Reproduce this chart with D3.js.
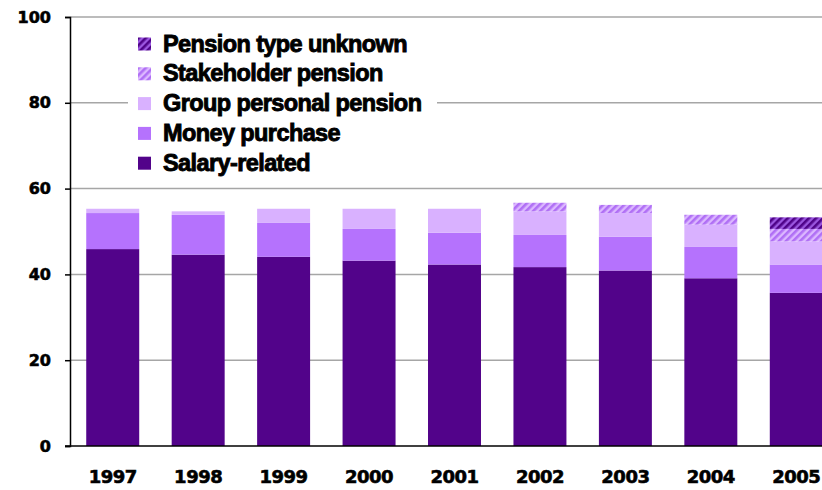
<!DOCTYPE html>
<html>
<head>
<meta charset="utf-8">
<script src="https://cdn.jsdelivr.net/npm/d3@7"></script>
<style>
  body { margin: 0; background: #fff; }
  svg { display: block; }
</style>
</head>
<body>
<div id="chart"></div>
<script>
const years = ['1997', '1998', '1999', '2000', '2001', '2002', '2003', '2004', '2005'];
const salaryRelated = [45.9, 44.6, 44.1, 43.2, 42.3, 41.7, 40.9, 39.1, 35.7];
const moneyPurchase = [8.4, 9.3, 7.9, 7.4, 7.4, 7.5, 7.9, 7.3, 6.6];
const groupPersonal = [1.0, 0.8, 3.3, 4.7, 5.6, 5.5, 5.5, 5.2, 5.4];
const stakeholder = [0, 0, 0, 0, 0, 2.0, 1.9, 2.3, 2.9];
const typeUnknown = [0, 0, 0, 0, 0, 0, 0, 0, 2.7];
const yTicks = [0, 20, 40, 60, 80, 100];

const seriesNames = ['Salary-related', 'Money purchase', 'Group personal pension', 'Stakeholder pension', 'Pension type unknown'];
const seriesValues = [salaryRelated, moneyPurchase, groupPersonal, stakeholder, typeUnknown];

const W = 822, H = 490;

const rows = years.map((y, i) => {
    const r = {year: y};
    seriesNames.forEach((n, k) => r[n] = seriesValues[k][i]);
    return r;
});

const svg = d3.select('#chart')
    .append('svg')
    .attr('width', W)
    .attr('height', H);

// hatch patterns
const defs = svg.append('defs');
function hatch(id, bg, fg) {
    const p = defs.append('pattern')
        .attr('id', id)
        .attr('patternUnits', 'userSpaceOnUse')
        .attr('width', 5)
        .attr('height', 5)
        .attr('patternTransform', 'rotate(45)');
    p.append('rect').attr('width', 5).attr('height', 5).attr('fill', bg);
    p.append('rect').attr('width', 2.6).attr('height', 5).attr('fill', fg);
}
hatch('hatchStake', '#dcb8ff', '#b06ff5');
hatch('hatchUnknown', '#9b57e0', '#4f0389');

const fills = {
    'Salary-related': '#52038a',
    'Money purchase': '#b572fd',
    'Group personal pension': '#d9b1ff',
    'Stakeholder pension': 'url(#hatchStake)',
    'Pension type unknown': 'url(#hatchUnknown)'
};

const x = d3.scaleBand()
    .domain(years)
    .range([70, 839])
    .paddingInner(0.38)
    .paddingOuter(0.19);

const y = d3.scaleLinear()
    .domain([0, 100])
    .range([446, 17]);

// gridlines
svg.append('g')
    .selectAll('line')
    .data(yTicks.filter(d => d > 0))
    .enter()
    .append('line')
    .attr('x1', 70)
    .attr('x2', W)
    .attr('y1', d => y(d))
    .attr('y2', d => y(d))
    .attr('stroke', '#a6a6a6')
    .attr('stroke-width', 1.5);

// bars
const stack = d3.stack().keys(seriesNames);
const layers = stack(rows);

svg.append('g')
    .selectAll('g')
    .data(layers)
    .enter()
    .append('g')
    .attr('fill', d => fills[d.key])
    .selectAll('rect')
    .data(d => d.filter(s => s[1] - s[0] > 0))
    .enter()
    .append('rect')
    .attr('x', d => x(d.data.year))
    .attr('width', x.bandwidth())
    .attr('y', d => y(d[1]))
    .attr('height', d => y(d[0]) - y(d[1]));

// y axis
const yAxis = d3.axisLeft(y)
    .tickValues(yTicks)
    .tickSize(5)
    .tickPadding(14);

const ya = svg.append('g')
    .attr('transform', 'translate(70,0)')
    .call(yAxis);
ya.select('.domain').attr('stroke', '#000').attr('stroke-width', 1.5);
ya.selectAll('.tick line').attr('stroke', '#000').attr('stroke-width', 1.5);
ya.selectAll('.tick text')
    .attr('font-family', 'DejaVu Sans, sans-serif')
    .attr('font-weight', 'bold')
    .attr('font-size', 16)
    .attr('stroke', '#000')
    .attr('stroke-width', 0.6)
    .attr('fill', '#000');

// x baseline
svg.append('line')
    .attr('x1', 65)
    .attr('x2', W)
    .attr('y1', y(0))
    .attr('y2', y(0))
    .attr('stroke', '#000')
    .attr('stroke-width', 1.5);

// x labels
svg.append('g')
    .selectAll('text')
    .data(years)
    .enter()
    .append('text')
    .attr('x', d => x(d) + x.bandwidth() / 2)
    .attr('y', 483)
    .attr('text-anchor', 'middle')
    .attr('font-family', 'DejaVu Sans, sans-serif')
    .attr('font-weight', 'bold')
    .attr('font-size', 18)
    .attr('letter-spacing', -0.5)
    .attr('stroke', '#000')
    .attr('stroke-width', 0.6)
    .text(d => d);

// legend
const legend = svg.append('g');
legend.append('rect')
    .attr('x', 128)
    .attr('y', 30)
    .attr('width', 309)
    .attr('height', 145)
    .attr('fill', '#fff');

const legendOrder = seriesNames.slice().reverse();
const item = legend.selectAll('g.item')
    .data(legendOrder)
    .enter()
    .append('g')
    .attr('class', 'item')
    .attr('transform', (d, i) => `translate(138,${44 + i * 29.8})`);

item.append('rect')
    .attr('x', 0)
    .attr('y', -6.5)
    .attr('width', 13)
    .attr('height', 13)
    .attr('fill', d => fills[d]);

item.append('text')
    .attr('x', 25)
    .attr('y', 7.5)
    .attr('font-family', 'Liberation Sans, Arial, sans-serif')
    .attr('font-weight', 'bold')
    .attr('font-size', 23.5)
    .attr('letter-spacing', -0.6)
    .attr('stroke', '#000')
    .attr('stroke-width', 0.9)
    .text(d => d);
</script>
</body>
</html>
